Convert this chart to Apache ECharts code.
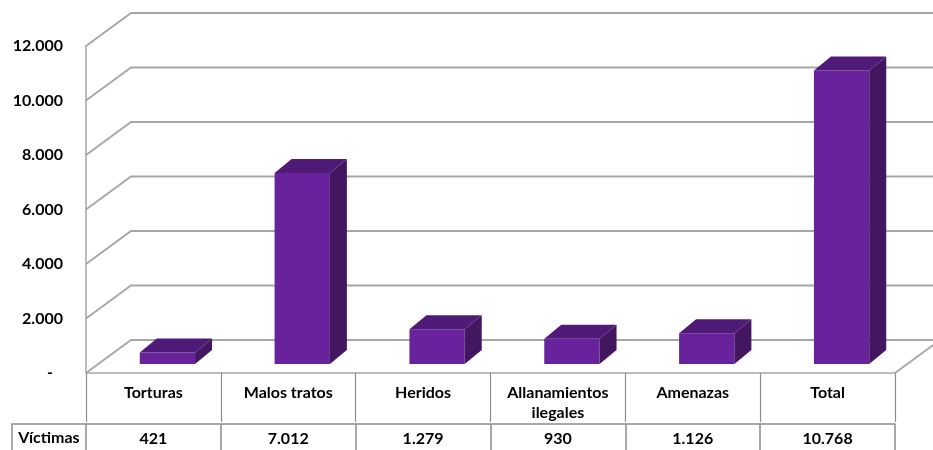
<!DOCTYPE html>
<html>
<head>
<meta charset="utf-8">
<script src="https://cdn.jsdelivr.net/npm/echarts@6/dist/echarts.min.js"></script>
<style>html,body{margin:0;padding:0;background:#fff}#c{width:933px;height:450px}</style>
</head>
<body>
<div id="c"></div>
<script>
// ---- data ----
var categories = ['Torturas', 'Malos tratos', 'Heridos', 'Allanamientos\nilegales', 'Amenazas', 'Total'];
var victimas = [421, 7012, 1279, 930, 1126, 10768];
var rowLabel = 'Víctimas';
var yTicks = [0, 2000, 4000, 6000, 8000, 10000, 12000];

// ---- style / geometry ----
var FONT = 'Lato';
var FS = 16;
var GRID = '#a6a6a6';
var TABLE = '#8c8c8c';
var DX = 45, DY = -33;        // depth of the whole box
var FX = 14, FY = -9;         // bar front-face offset into depth
var BX = 17, BY = -14;        // bar depth
var BW = 0.41;                // bar width ratio

function fmt(v) {
  if (v === 0) return '-';
  return String(v).replace(/\B(?=(\d{3})+(?!\d))/g, '.');
}

var chart = echarts.init(document.getElementById('c'), null, {renderer: 'canvas'});

var option = {
  animation: false,
  backgroundColor: '#fff',
  textStyle: {fontFamily: FONT},
  grid: {left: 86, right: 38, top: 46, bottom: 77, containLabel: false},
  xAxis: [{
    type: 'category',
    data: categories,
    position: 'bottom',
    axisLine: {show: true, lineStyle: {color: GRID, width: 1.5}},
    axisTick: {show: true, interval: 0, length: 49, lineStyle: {color: TABLE, width: 1.2}},
    axisLabel: {interval: 0, margin: 10, color: '#000', fontFamily: FONT, fontWeight: 'bold', fontSize: FS, lineHeight: 20, verticalAlign: 'top'},
    splitLine: {show: false}
  }, {
    type: 'category',
    data: categories,
    position: 'bottom',
    offset: 51,
    axisLine: {show: true, lineStyle: {color: TABLE, width: 1.5}},
    axisTick: {show: true, interval: 0, length: 30, lineStyle: {color: TABLE, width: 1.5}},
    axisLabel: {interval: 0, margin: 7, color: '#000', fontFamily: FONT, fontWeight: 'bold', fontSize: FS, verticalAlign: 'top',
      formatter: function (val, idx) { return fmt(victimas[idx]); }},
    splitLine: {show: false}
  }],
  yAxis: {
    type: 'value',
    min: 0, max: 12000, interval: 2000,
    axisLine: {show: true, lineStyle: {color: GRID, width: 1.5}},
    axisTick: {show: false},
    splitLine: {show: false},
    axisLabel: {margin: 23, color: '#000', fontFamily: FONT, fontWeight: 'bold', fontSize: FS,
      formatter: function (v) { return v === 0 ? '{d|-}' : fmt(v); },
      rich: {d: {fontFamily: FONT, fontWeight: 'bold', fontSize: FS, padding: [0, 10, 0, 0], color: '#000'}}}
  },
  graphic: [
    {type: 'polyline', shape: {points: [[12, 450], [12, 424], [86, 424]]}, style: {stroke: TABLE, lineWidth: 1.5, fill: null}, z: 10},
    {type: 'text', x: 49, y: 438, style: {text: rowLabel, font: 'bold ' + FS + 'px ' + FONT, fill: '#000', align: 'center', verticalAlign: 'middle'}, z: 10}
  ],
  series: [{
    type: 'custom',
    name: 'walls',
    z: 1,
    silent: true,
    data: yTicks.map(function (t) { return [0, t]; }),
    renderItem: function (params, api) {
      var cs = params.coordSys;
      var y = api.coord([0, api.value(1)])[1];
      var x0 = cs.x, x1 = cs.x + cs.width;
      var children = [{
        type: 'polyline',
        shape: {points: [[x0, y], [x0 + DX, y + DY], [x1 + DX + 10, y + DY]]},
        style: {stroke: GRID, lineWidth: 1.8, fill: null}
      }];
      if (api.value(1) === 0) {
        children.push({type: 'line', shape: {x1: x1, y1: y, x2: x1 + DX, y2: y + DY}, style: {stroke: GRID, lineWidth: 1.8}});
      }
      return {type: 'group', children: children};
    }
  }, {
    type: 'custom',
    name: 'Víctimas',
    z: 5,
    data: victimas.map(function (v, i) { return [i, v]; }),
    renderItem: function (params, api) {
      var i = api.value(0), v = api.value(1);
      var base = api.coord([i, 0]);
      var top = api.coord([i, v]);
      var w = api.size([1, 0])[0] * BW;
      var xl = base[0] - w / 2 + FX, xr = xl + w;
      var yb = base[1] + FY, yt = top[1] + FY;
      return {type: 'group', children: [
        {type: 'rect', shape: {x: xl, y: yt, width: w, height: yb - yt}, style: {fill: '#68229b'}},
        {type: 'polygon', shape: {points: [[xr, yt], [xr + BX, yt + BY], [xr + BX, yb + BY], [xr, yb]]}, style: {fill: '#43175f'}},
        {type: 'polygon', shape: {points: [[xl, yt], [xr, yt], [xr + BX, yt + BY], [xl + BX, yt + BY]]}, style: {fill: '#501b78'}}
      ]};
    }
  }]
};
chart.setOption(option);
</script>
</body>
</html>
